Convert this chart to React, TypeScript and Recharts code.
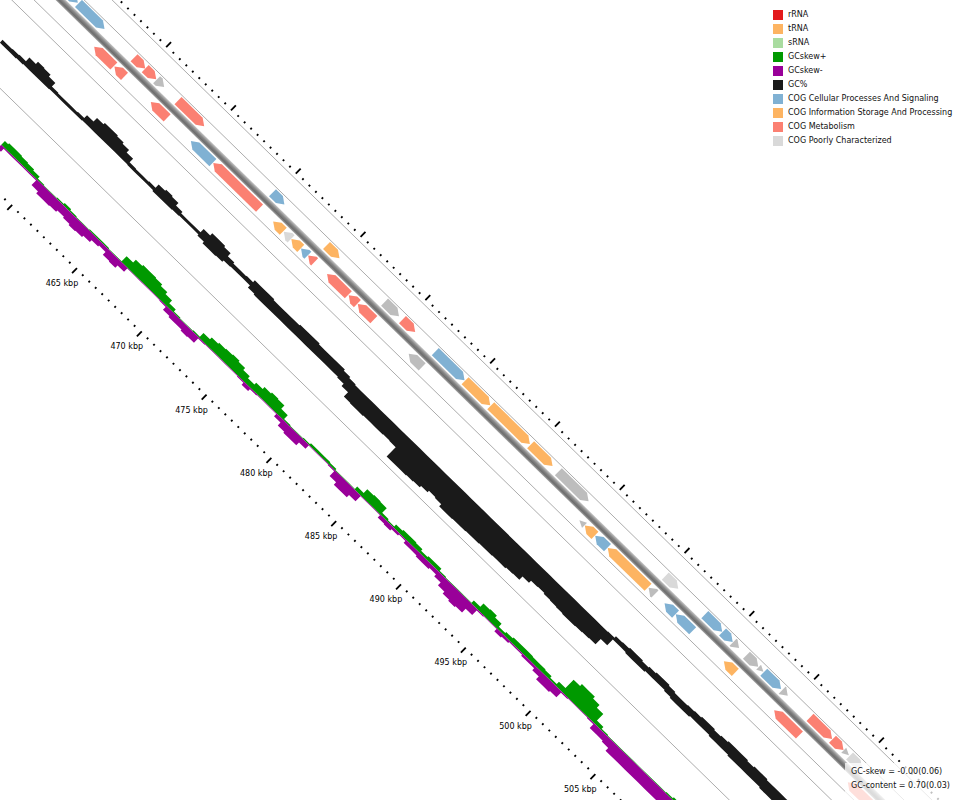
import React from "react";
import { ComposedChart, Area, XAxis, YAxis, ReferenceArea, ReferenceLine } from "recharts";

const ANGLE = 44.3;
const FONT = "'DejaVu Sans', Verdana, sans-serif";

// ruler: a tick every 0.5 kbp, a long tick and a label every 5 kbp
const rulerTicks = Array.from({ length: 149 }, (_, i) => 450 + i * 0.5);
const kbpLabels = [465, 470, 475, 480, 485, 490, 495, 500, 505];

// genes: [start kbp, end kbp, COG class]
const forwardGenes: [number, number, string][] = [
  [452.45, 454.8, "C"], [454.85, 456.86, "C"], [459.14, 460.0, "M"], [460.0, 460.85, "M"],
  [460.88, 461.46, "N"], [462.53, 464.55, "M"], [469.82, 470.74, "C"], [473.99, 474.99, "I"],
  [478.47, 479.58, "N"], [479.85, 480.83, "M"], [482.38, 484.64, "C"], [484.68, 486.62, "I"],
  [486.66, 489.68, "I"], [489.74, 491.43, "I"], [491.88, 494.21, "N"], [500.13, 501.13, "P"],
  [503.18, 504.52, "C"], [504.55, 505.33, "C"], [505.36, 505.82, "N"], [506.39, 507.3, "N"],
  [507.33, 507.7, "N"], [507.73, 509.06, "C"], [509.15, 509.58, "N"], [511.3, 513.0, "M"],
  [513.03, 513.88, "M"], [513.9, 514.3, "N"], [514.35, 515.31, "P"],
];
const reverseGenes: [number, number, string][] = [
  [451.33, 451.83, "N"], [457.14, 458.66, "M"], [458.7, 459.48, "M"], [461.51, 462.77, "M"],
  [464.6, 466.3, "C"], [466.33, 469.9, "M"], [470.95, 471.73, "I"], [471.77, 472.33, "P"],
  [472.35, 473.08, "I"], [473.1, 473.63, "C"], [473.65, 474.15, "M"], [475.11, 476.75, "M"],
  [476.78, 477.45, "M"], [477.48, 478.72, "M"], [481.41, 482.45, "N"], [494.58, 494.98, "N"],
  [495.0, 495.78, "I"], [495.8, 496.75, "C"], [496.77, 499.88, "I"], [499.92, 500.41, "N"],
  [501.15, 502.0, "C"], [502.02, 503.32, "C"], [505.73, 506.61, "I"], [509.61, 511.56, "M"],
  [515.29, 517.06, "M"],
];
const cogColors: Record<string, string> = {
  C: "#80b1d3", I: "#fdb462", M: "#fb8072", P: "#d9d9d9", N: "#bdbdbd",
};

// GC content per 0.5 kbp window, first window at 453 kbp (upper / lower value in window)
const gcStart = 453;
const gcHigh = [
  0.704, 0.704, 0.706, 0.708, 0.728, 0.74, 0.738, 0.728, 0.708, 0.706,
  0.706, 0.706, 0.708, 0.724, 0.744, 0.752, 0.752, 0.748, 0.742, 0.728,
  0.708, 0.706, 0.706, 0.708, 0.726, 0.732, 0.728, 0.714, 0.706, 0.706,
  0.706, 0.724, 0.736, 0.736, 0.73, 0.714, 0.708, 0.708, 0.71, 0.72,
  0.72, 0.72, 0.716, 0.716, 0.716, 0.716, 0.72, 0.72, 0.72, 0.716,
  0.716, 0.716, 0.716, 0.71, 0.704,
  0.7, 0.7, 0.7, 0.7, 0.7, 0.7, 0.7, 0.7, 0.7, 0.7,
  0.7, 0.7, 0.7, 0.7, 0.7, 0.7, 0.7, 0.7, 0.7, 0.7,
  0.7, 0.7, 0.7, 0.7, 0.7, 0.7, 0.7, 0.7, 0.7, 0.7,
  0.7, 0.7, 0.7, 0.7, 0.7, 0.7, 0.7, 0.7, 0.7,
  0.702, 0.71, 0.712, 0.716, 0.716, 0.712, 0.716, 0.72, 0.72, 0.716,
  0.712, 0.712, 0.714, 0.716, 0.72, 0.72, 0.716, 0.72, 0.724, 0.724,
  0.724, 0.72, 0.724, 0.724, 0.72, 0.72, 0.72, 0.72,
];
const gcLow = [
  0.688, 0.688, 0.688, 0.69, 0.692, 0.692, 0.692, 0.692, 0.694, 0.694,
  0.694, 0.694, 0.694, 0.696, 0.696, 0.696, 0.696, 0.696, 0.696, 0.696,
  0.694, 0.694, 0.694, 0.694, 0.69, 0.69, 0.69, 0.692, 0.694, 0.694,
  0.694, 0.688, 0.68, 0.68, 0.682, 0.69, 0.692, 0.692, 0.692, 0.68,
  0.676, 0.676, 0.676, 0.676, 0.676, 0.676, 0.676, 0.676, 0.676, 0.676,
  0.676, 0.676, 0.676, 0.672, 0.66,
  0.636, 0.634, 0.634, 0.636, 0.636, 0.636, 0.638, 0.636,
  0.584, 0.584, 0.584, 0.586, 0.588, 0.596, 0.604, 0.6, 0.588, 0.588,
  0.59, 0.59, 0.592, 0.592, 0.594, 0.594, 0.596, 0.596, 0.6, 0.602,
  0.62, 0.632, 0.634, 0.63, 0.628, 0.626, 0.624, 0.624, 0.626, 0.628, 0.63,
  0.66, 0.692, 0.692, 0.688, 0.688, 0.688, 0.692, 0.692, 0.692, 0.688,
  0.684, 0.684, 0.684, 0.688, 0.688, 0.688, 0.684, 0.684, 0.684, 0.68,
  0.68, 0.68, 0.68, 0.68, 0.676, 0.676, 0.676, 0.676,
];

// GC skew per 0.5 kbp window, first window at 457 kbp (positive / negative part)
const skewStart = 457;
const skewPos = [
  0.04, 0.05, 0.05, 0.045, 0.04, 0.03, 0.01, 0.005, 0.005, 0.01,
  0.02, 0.01, 0.005, 0.005, 0.01, 0.01, 0.01, 0.005, 0.005, 0.06,
  0.09, 0.1, 0.1, 0.095, 0.08, 0.06, 0.03, 0.01, 0.005, 0.005,
  0.01, 0.05, 0.07, 0.08, 0.085, 0.09, 0.08, 0.06, 0.04, 0.06,
  0.08, 0.09, 0.085, 0.05, 0.01, 0.005, 0.005, 0.01, 0.02, 0.02,
  0.02, 0.015, 0.005, 0.005, 0.005, 0.03, 0.07, 0.075, 0.07, 0.02,
  0.01, 0.03, 0.04, 0.04, 0.035, 0.02, 0.03, 0.03, 0.01, 0.005,
  0.005, 0.005, 0.005, 0.03, 0.065, 0.07, 0.05, 0.02, 0.03, 0.04,
  0.04, 0.04, 0.035, 0.035, 0.03, 0.015, 0.04, 0.13, 0.15, 0.15,
  0.13, 0.1, 0.03, 0.01, 0.005, 0.005, 0.005, 0.005, 0.005, 0.005,
  0.005, 0.005, 0.005, 0.01, 0.02, 0.02,
];
const skewNeg = [
  -0.04, -0.01, -0.01, -0.01, -0.01, -0.01, -0.06, -0.08, -0.08, -0.075,
  -0.06, -0.07, -0.08, -0.075, -0.06, -0.04, -0.03, -0.06, -0.065, -0.04,
  -0.005, -0.005, -0.005, -0.005, -0.005, -0.01, -0.04, -0.05, -0.05, -0.06,
  -0.055, -0.01, -0.005, -0.005, -0.005, -0.005, -0.005, -0.01, -0.03, -0.01,
  -0.005, -0.005, -0.005, -0.03, -0.06, -0.07, -0.07, -0.04, -0.005, -0.005,
  -0.005, -0.01, -0.06, -0.085, -0.085, -0.06, -0.005, -0.005, -0.005, -0.03,
  -0.035, -0.02, -0.01, -0.03, -0.03, -0.04, -0.04, -0.03, -0.05, -0.08,
  -0.1, -0.11, -0.1, -0.06, -0.01, -0.005, -0.005, -0.03, -0.02, -0.01,
  -0.01, -0.02, -0.02, -0.04, -0.07, -0.07, -0.06, -0.01, -0.005, -0.005,
  -0.005, -0.01, -0.05, -0.05, -0.06, -0.09, -0.09, -0.09, -0.09, -0.09,
  -0.09, -0.09, -0.09, -0.08, -0.07, -0.07,
];

const legendLabels = [
  "rRNA", "tRNA", "sRNA", "GCskew+", "GCskew-", "GC%",
  "COG Cellular Processes And Signaling", "COG Information Storage And Processing",
  "COG Metabolism", "COG Poorly Characterized",
];
const legendColors = [
  "#e31a1c", "#fdb462", "#a9dca0", "#009900", "#990099", "#1a1a1a",
  "#80b1d3", "#fdb462", "#fb8072", "#d9d9d9",
];
const statLines = ["GC-skew = -0.00(0.06)", "GC-content = 0.70(0.03)"];

const WIN = 0.5;
const table = gcHigh.map((hi, i) => {
  const start = gcStart + i * WIN;
  const j = Math.round((start - skewStart) / WIN);
  const inSkew = j >= 0 && j < skewPos.length;
  return {
    pos: start + WIN / 2,
    gcHigh: hi,
    gcLow: gcLow[i],
    skewPos: inSkew ? skewPos[j] : null,
    skewNeg: inSkew ? skewNeg[j] : null,
  };
});

// ring layout, in px on the "ring" axis (outward is up)
const dividers = [78.5, 59, 24, 8.4, -63];

function GeneArrow(props: any) {
  const { x, y, width, height, fill, dir } = props;
  if (!isFinite(x) || !isFinite(width)) return null;
  const head = Math.min(width, 7);
  let y0 = y;
  let h = height;
  if (width < 7.5) {
    h = height * 0.7;
    y0 = y + (height - h) / 2;
  }
  const mid = y0 + h / 2;
  const pts =
    dir > 0
      ? [[x, y0], [x + width - head, y0], [x + width, mid], [x + width - head, y0 + h], [x, y0 + h]]
      : [[x + width, y0], [x + head, y0], [x, mid], [x + head, y0 + h], [x + width, y0 + h]];
  return <polygon points={pts.map((p) => p.join(",")).join(" ")} fill={fill} />;
}

const isMajor = (v: number) => Math.abs(v / 5 - Math.round(v / 5)) < 1e-6;

function InnerTick({ x, y, payload }: any) {
  const v = payload.value;
  const major = isMajor(v);
  const ly = y + 20.5;
  return (
    <g>
      <line x1={x} x2={x} y1={y - 1} y2={major ? y + 6 : y + 1} stroke="#000" strokeWidth={1.8} />
      {major && kbpLabels.includes(v) && (
        <text
          x={x}
          y={ly}
          transform={`rotate(${-ANGLE} ${x} ${ly})`}
          textAnchor="middle"
          dominantBaseline="central"
          fontSize={8}
          fontFamily={FONT}
          fill="#000"
        >
          {v} kbp
        </text>
      )}
    </g>
  );
}

function OuterTick({ x, y, payload }: any) {
  const major = isMajor(payload.value);
  return <line x1={x} x2={x} y1={y + 1} y2={major ? y - 6 : y - 1} stroke="#000" strokeWidth={1.8} />;
}

export default function App() {
  return (
    <div
      style={{
        position: "absolute", left: 0, top: 0, width: 960, height: 800,
        overflow: "hidden", background: "#fff", fontFamily: FONT,
      }}
    >
      <div
        style={{
          position: "absolute", left: 46.01, top: -89.24, width: 1340, height: 275,
          transform: `rotate(${ANGLE}deg)`, transformOrigin: "0 0",
        }}
      >
        <ComposedChart width={1340} height={275} data={table} margin={{ top: 0, right: 0, bottom: 0, left: 0 }}>
          <defs>
            <linearGradient id="backbone" x1="0" y1="0" x2="0" y2="1">
              <stop offset="0%" stopColor="#c6c6c6" />
              <stop offset="40%" stopColor="#858585" />
              <stop offset="70%" stopColor="#6c6c6c" />
              <stop offset="100%" stopColor="#a2a2a2" />
            </linearGradient>
          </defs>
          <XAxis
            xAxisId="in" dataKey="pos" type="number" domain={[450, 524]} allowDataOverflow
            orientation="bottom" height={40} ticks={rulerTicks} interval={0}
            tickLine={false} axisLine={false} tickSize={0} tickMargin={0} tick={<InnerTick />}
          />
          <XAxis
            xAxisId="out" dataKey="pos" type="number" domain={[450, 524]} allowDataOverflow
            orientation="top" height={12.5} ticks={rulerTicks} interval={0}
            tickLine={false} axisLine={false} tickSize={0} tickMargin={0} tick={<OuterTick />}
          />
          <YAxis yAxisId="px" type="number" domain={[-139, 83.5]} allowDataOverflow hide />
          <YAxis yAxisId="gc" type="number" domain={[0.254, 1.144]} allowDataOverflow hide />
          <YAxis yAxisId="skew" type="number" domain={[-0.2808, 1.4308]} allowDataOverflow hide />

          {dividers.map((v) => (
            <ReferenceLine key={v} xAxisId="in" yAxisId="px" y={v} stroke="#a8a8a8" strokeWidth={0.9} />
          ))}

          <ReferenceArea xAxisId="in" yAxisId="px" x1={450} x2={524} y1={39} y2={46} fill="url(#backbone)" fillOpacity={1} stroke="none" />

          {forwardGenes.map(([s, e, c], i) => (
            <ReferenceArea
              key={`f${i}`} xAxisId="in" yAxisId="px" x1={s} x2={e} y1={47.5} y2={57.5}
              shape={(p: any) => <GeneArrow {...p} fill={cogColors[c]} dir={1} />}
            />
          ))}
          {reverseGenes.map(([s, e, c], i) => (
            <ReferenceArea
              key={`r${i}`} xAxisId="in" yAxisId="px" x1={s} x2={e} y1={27.5} y2={37.5}
              shape={(p: any) => <GeneArrow {...p} fill={cogColors[c]} dir={-1} />}
            />
          ))}

          <Area
            xAxisId="in" yAxisId="gc" type="step" dataKey={(d: any) => [d.gcLow, d.gcHigh]}
            fill="#1a1a1a" fillOpacity={1} stroke="none" isAnimationActive={false} activeDot={false}
          />
          <Area
            xAxisId="in" yAxisId="skew" type="step"
            dataKey={(d: any) => (d.skewPos == null ? null : [0, d.skewPos])}
            fill="#009900" fillOpacity={1} stroke="none" isAnimationActive={false} activeDot={false}
          />
          <Area
            xAxisId="in" yAxisId="skew" type="step"
            dataKey={(d: any) => (d.skewNeg == null ? null : [d.skewNeg, 0])}
            fill="#990099" fillOpacity={1} stroke="none" isAnimationActive={false} activeDot={false}
          />
        </ComposedChart>
      </div>

      <div style={{ position: "absolute", left: 773, top: 7.5 }}>
        {legendLabels.map((l, i) => (
          <div key={l} style={{ display: "flex", alignItems: "center", height: 14 }}>
            <div style={{ width: 10, height: 10, background: legendColors[i], marginRight: 5 }} />
            <span style={{ fontSize: 8, color: "#111", whiteSpace: "nowrap" }}>{l}</span>
          </div>
        ))}
      </div>

      <div
        style={{
          position: "absolute", left: 845, top: 763, width: 115, height: 37,
          background: "rgba(255,255,255,0.75)",
        }}
      />
      <div style={{ position: "absolute", left: 851, top: 765 }}>
        {statLines.map((t) => (
          <div key={t} style={{ fontSize: 8, lineHeight: "14px", color: "#111", whiteSpace: "nowrap" }}>{t}</div>
        ))}
      </div>
    </div>
  );
}
